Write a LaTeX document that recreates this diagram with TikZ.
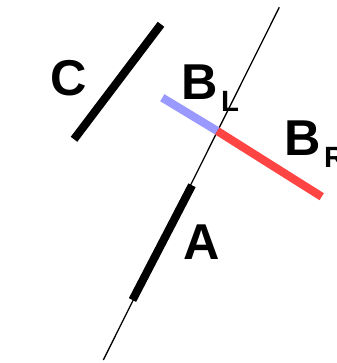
\documentclass[tikz,border=0pt]{standalone}
\usepackage{fontspec}
\setmainfont{Liberation Sans}
\usepackage{tikz}
\usetikzlibrary{calc}
\definecolor{leftblue}{RGB}{153,153,255}
\definecolor{rightred}{RGB}{255,68,68}
\newcommand{\biglab}{\fontsize{43}{43}\selectfont\bfseries}
\newcommand{\sublab}[1]{\kern 3pt\lower 11pt\hbox{\fontsize{25}{25}\selectfont\bfseries #1}}
\tikzset{
  axis/.style={black, line width=1.1pt},
  seg/.style={black, line width=7pt},
  segleft/.style={leftblue, line width=7pt},
  segright/.style={rightred, line width=7pt},
  lab/.style={font=\biglab, inner sep=0pt, anchor=base west},
}
\begin{document}
\begin{tikzpicture}[x=0.03cm,y=-0.03cm]
  \path[use as bounding box] (0,0) rectangle (337,363);

  % Thin axis through B and A.
  \coordinate (top) at (279.3,7.3);
  \coordinate (bot) at (103.3,360);
  \draw[axis] (top) -- (bot);

  % Segment C.
  \coordinate (c1) at (161,24.3);
  \coordinate (c2) at (74,139.3);
  \draw[seg] (c1) -- (c2);

  % Segment B, split at the axis.
  \coordinate (bl) at (162.3,97.7);
  \coordinate (bm) at (217.3,131);
  \coordinate (br) at (321.7,196.7);
  \draw[segleft] (bl) -- (bm);
  \draw[segright] (bm) -- (br);

  % Segment A, lying on the axis.
  \coordinate (a1) at (192,185.3);
  \coordinate (a2) at (132.5,300);
  \draw[seg] (a1) -- (a2);

  % Labels.
  \node[lab] (labC) at (50,95) {C};
  \node[lab] (labBL) at (181,99) {B\sublab{L}};
  \node[lab] (labBR) at (284,155) {B\sublab{R}};
  \node[lab] (labA) at (183,259) {A};
\end{tikzpicture}
\end{document}
